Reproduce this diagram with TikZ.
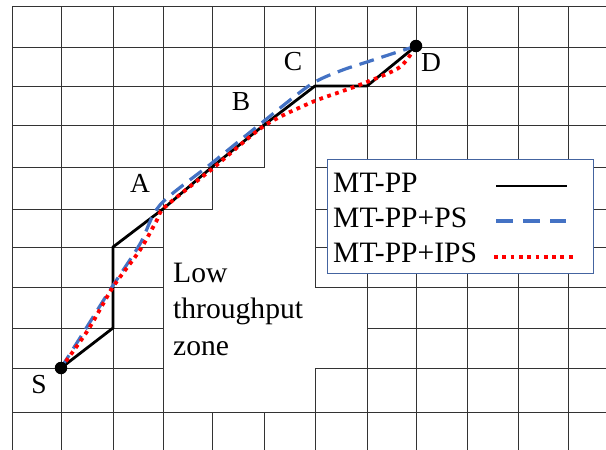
\documentclass[tikz,border=0pt]{standalone}
\usepackage{fontspec}
\setmainfont{Liberation Serif}
\definecolor{psblue}{RGB}{68,114,196}
\definecolor{legblue}{RGB}{68,100,160}
\begin{document}
\begin{tikzpicture}[x=1pt,y=-1pt,
  gridline/.style={line width=1pt, black!80},
  lbl/.style={font=\fontsize{27.5}{32}\selectfont, inner sep=0pt},
  bigtext/.style={font=\fontsize{29.6}{34}\selectfont, inner sep=0pt, anchor=base west},
  pathpp/.style={line width=2.8pt, black, line join=round},
  pathps/.style={line width=3.2pt, psblue, dash pattern=on 15pt off 8pt},
  pathips/.style={line width=3.8pt, red, dash pattern=on 3.8pt off 4.5pt},
  endpt/.style={circle, fill=black, minimum size=12.5pt, inner sep=0pt},
  legendbox/.style={draw=legblue, line width=1pt, fill=white, inner sep=0pt,
                    minimum width=266pt, minimum height=114pt}
]
\useasboundingbox (0,0) rectangle (606,450);
\fill[white] (0,0) rectangle (606,450);
% grid
\foreach \x in {12,61,113,163,212,264,315,367,416,467,518,568}
  \draw[gridline] (\x,6) -- (\x,450);
\foreach \y in {6,47,86,125,167,209,247,287,328,368,412}
  \draw[gridline] (12,\y) -- (606,\y);
% low throughput zone (cells without grid lines)
\fill[white] (264,125) -- (315,125) -- (315,287) -- (367,287) -- (367,368)
  -- (315,368) -- (315,412) -- (163,412) -- (163,209) -- (212,209)
  -- (212,167) -- (264,167) -- cycle;
\draw[gridline, line join=miter] (264,125) -- (315,125) -- (315,287) -- (367,287) -- (367,368)
  -- (315,368) -- (315,412) -- (163,412) -- (163,209) -- (212,209)
  -- (212,167) -- (264,167) -- cycle;
% end points
\coordinate (s) at (61,368);
\coordinate (d) at (416,46);
% MT-PP waypoints
\coordinate (k1) at (113,328);
\coordinate (k2) at (113,247);
\coordinate (k3) at (163,209);
\coordinate (k4) at (212,167);
\coordinate (k5) at (264,125);
\coordinate (k6) at (315,86);
\coordinate (k7) at (367,86);
% MT-PP+PS waypoints
\coordinate (b1) at (85,330);
\coordinate (b2) at (110,290);
\coordinate (b3) at (140,244);
\coordinate (b4) at (160,205);
\coordinate (b5) at (212,163);
\coordinate (b6) at (264,121);
\coordinate (b7) at (310,85);
\coordinate (b8) at (340,71);
\coordinate (b9) at (370,61);
% MT-PP+IPS waypoints
\coordinate (r1) at (88,330);
\coordinate (r2) at (113,287);
\coordinate (r3) at (140,250);
\coordinate (r4) at (157,220);
\coordinate (r5) at (165,207);
\coordinate (r6) at (212,169);
\coordinate (r7) at (264,126);
\coordinate (r8) at (310,103);
\coordinate (r9) at (340,92);
\coordinate (r10) at (367,82);
\coordinate (r11) at (400,67);
% paths
\draw[pathpp] (s) -- (k1) -- (k2) -- (k3) -- (k4) -- (k5) -- (k6) -- (k7) -- (d);
\draw[pathps] plot[smooth, tension=0.5] coordinates {(s) (b1) (b2) (b3) (b4) (b5) (b6) (b7) (b8) (b9) (d)};
\draw[pathips] plot[smooth, tension=0.5] coordinates {(s) (r1) (r2) (r3) (r4) (r5) (r6) (r7) (r8) (r9) (r10) (r11) (d)};
\node[endpt] (S) at (s) {};
\node[endpt] (D) at (d) {};
% point labels
\node[lbl] (labA) at (140,183) {A};
\node[lbl] (labB) at (241,102) {B};
\node[lbl] (labC) at (293,62) {C};
\node[lbl] (labD) at (431,63) {D};
\node[lbl] (labS) at (39,385) {S};
% zone label
\node[bigtext] (low1) at (173,282) {Low};
\node[bigtext] (low2) at (173,318) {throughput};
\node[bigtext] (low3) at (173,355) {zone};
% legend
\node[legendbox] (legend) at (460,216) {};
\node[bigtext] (leg1) at (333,192) {MT-PP};
\node[bigtext] (leg2) at (333,227) {MT-PP+PS};
\node[bigtext] (leg3) at (333,262) {MT-PP+IPS};
\coordinate (m1a) at (496,186); \coordinate (m1b) at (567,186);
\coordinate (m2a) at (496,221); \coordinate (m2b) at (566,221);
\coordinate (m3a) at (494,257); \coordinate (m3b) at (574,257);
\draw[pathpp] (m1a) -- (m1b);
\draw[pathps, dash pattern=on 17pt off 10pt] (m2a) -- (m2b);
\draw[pathips] (m3a) -- (m3b);
\end{tikzpicture}
\end{document}
